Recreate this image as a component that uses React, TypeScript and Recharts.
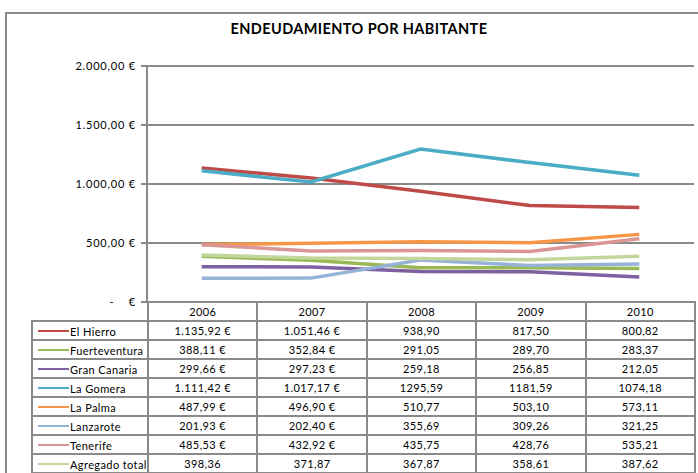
import React from 'react';
import { LineChart, Line, XAxis, YAxis, CartesianGrid } from 'recharts';

const years = ['2006', '2007', '2008', '2009', '2010'];

const elHierro = [1135.92, 1051.46, 938.9, 817.5, 800.82];
const fuerteventura = [388.11, 352.84, 291.05, 289.7, 283.37];
const granCanaria = [299.66, 297.23, 259.18, 256.85, 212.05];
const laGomera = [1111.42, 1017.17, 1295.59, 1181.59, 1074.18];
const laPalma = [487.99, 496.9, 510.77, 503.1, 573.11];
const lanzarote = [201.93, 202.4, 355.69, 309.26, 321.25];
const tenerife = [485.53, 432.92, 435.75, 428.76, 535.21];
const agregado = [398.36, 371.87, 367.87, 358.61, 387.62];

const yTicks = [0, 500, 1000, 1500, 2000];

const series = [
  { key: 'elHierro', name: 'El Hierro', values: elHierro, color: '#BE4B48' },
  { key: 'fuerteventura', name: 'Fuerteventura', values: fuerteventura, color: '#98B954' },
  { key: 'granCanaria', name: 'Gran Canaria', values: granCanaria, color: '#7D60A0' },
  { key: 'laGomera', name: 'La Gomera', values: laGomera, color: '#4BACC6' },
  { key: 'laPalma', name: 'La Palma', values: laPalma, color: '#F79646' },
  { key: 'lanzarote', name: 'Lanzarote', values: lanzarote, color: '#95B3D7' },
  { key: 'tenerife', name: 'Tenerife', values: tenerife, color: '#DA9694' },
  { key: 'agregado', name: 'Agregado total', values: agregado, color: '#C3D69B' },
];

// one row per year for recharts
const chartData = years.map((year, i) => {
  const row: Record<string, string | number> = { year };
  series.forEach(s => { row[s.key] = s.values[i]; });
  return row;
});

const FONT = 'Lato, "Open Sans", sans-serif';
const GRID = '#8a8a8a';

const spanish = (v: number, thousands: boolean) => {
  const [intPart, dec] = v.toFixed(2).split('.');
  const withSep = thousands ? intPart.replace(/\B(?=(\d{3})+(?!\d))/g, '.') : intPart;
  return `${withSep},${dec}`;
};

// the source sheet formats 2006-2007 as currency, later years as plain numbers
const formatCell = (v: number, yearIdx: number, key: string) => {
  if (key === 'agregado' || yearIdx >= 2) return spanish(v, false);
  return `${spanish(v, true)} €`;
};

const formatTick = (v: number) => (v === 0 ? '-\u00a0\u00a0\u00a0\u00a0€' : `${spanish(v, true)} €`);

const PLOT_LEFT = 147;
const PLOT_RIGHT = 694;
const COL_W = (PLOT_RIGHT - PLOT_LEFT) / years.length;
const ROW_H = 19;

const cellBorder = `2px solid ${GRID}`;

const App = () => {
  return (
    <div style={{ position: 'absolute', left: 0, top: 0, width: 698, height: 473, overflow: 'hidden', background: '#fff', fontFamily: FONT }}>
      <div style={{ position: 'absolute', left: 5, top: 12, width: 720, height: 500, border: `2px solid ${GRID}`, boxSizing: 'border-box' }} />
      <div style={{ position: 'absolute', left: 0, top: 20, width: 718, textAlign: 'center', fontWeight: 'bold', fontSize: 14.5, letterSpacing: 0.4, color: '#000' }}>
        ENDEUDAMIENTO POR HABITANTE
      </div>
      <div style={{ position: 'absolute', left: 0, top: 0 }}>
        <LineChart width={698} height={310} data={chartData} margin={{ top: 66, right: 698 - PLOT_RIGHT, bottom: 8, left: 0 }}>
          <CartesianGrid vertical={false} stroke={GRID} strokeWidth={2} />
          <XAxis dataKey="year" hide padding={{ left: COL_W / 2, right: COL_W / 2 }} />
          <YAxis
            width={PLOT_LEFT}
            domain={[0, 2000]}
            ticks={yTicks}
            tickFormatter={formatTick}
            tick={{ fontSize: 11, fill: '#000', fontFamily: FONT, letterSpacing: 0.8 }}
            tickSize={6}
            tickMargin={5}
            axisLine={{ stroke: GRID, strokeWidth: 2 }}
            tickLine={{ stroke: GRID, strokeWidth: 2 }}
          />
          {series.map(s => (
            <Line
              key={s.key}
              dataKey={s.key}
              stroke={s.color}
              strokeWidth={3.5}
              dot={false}
              type="linear"
              isAnimationActive={false}
            />
          ))}
        </LineChart>
      </div>
      <table
        style={{
          position: 'absolute',
          left: 31,
          top: 301,
          borderCollapse: 'collapse',
          tableLayout: 'fixed',
          width: PLOT_RIGHT - 31 + 1,
          fontSize: 11,
          letterSpacing: 0.4,
          fontFamily: FONT,
          color: '#000',
        }}
      >
        <colgroup>
          <col style={{ width: PLOT_LEFT - 31 }} />
          {years.map(y => <col key={y} style={{ width: COL_W }} />)}
        </colgroup>
        <tbody>
          <tr style={{ height: ROW_H }}>
            <td style={{ border: 'none' }} />
            {years.map(y => (
              <td key={y} style={{ border: cellBorder, textAlign: 'center', padding: 0 }}>{y}</td>
            ))}
          </tr>
          {series.map(s => (
            <tr key={s.key} style={{ height: ROW_H }}>
              <td style={{ border: cellBorder, padding: 0, whiteSpace: 'nowrap', overflow: 'hidden' }}>
                <span style={{ display: 'inline-block', width: 31, height: 2, background: s.color, verticalAlign: 'middle', marginLeft: 5, marginRight: 1 }} />
                <span style={{ verticalAlign: 'middle' }}>{s.name}</span>
              </td>
              {s.values.map((v, i) => (
                <td key={i} style={{ border: cellBorder, textAlign: 'center', padding: 0 }}>{formatCell(v, i, s.key)}</td>
              ))}
            </tr>
          ))}
        </tbody>
      </table>
    </div>
  );
};

export default App;
